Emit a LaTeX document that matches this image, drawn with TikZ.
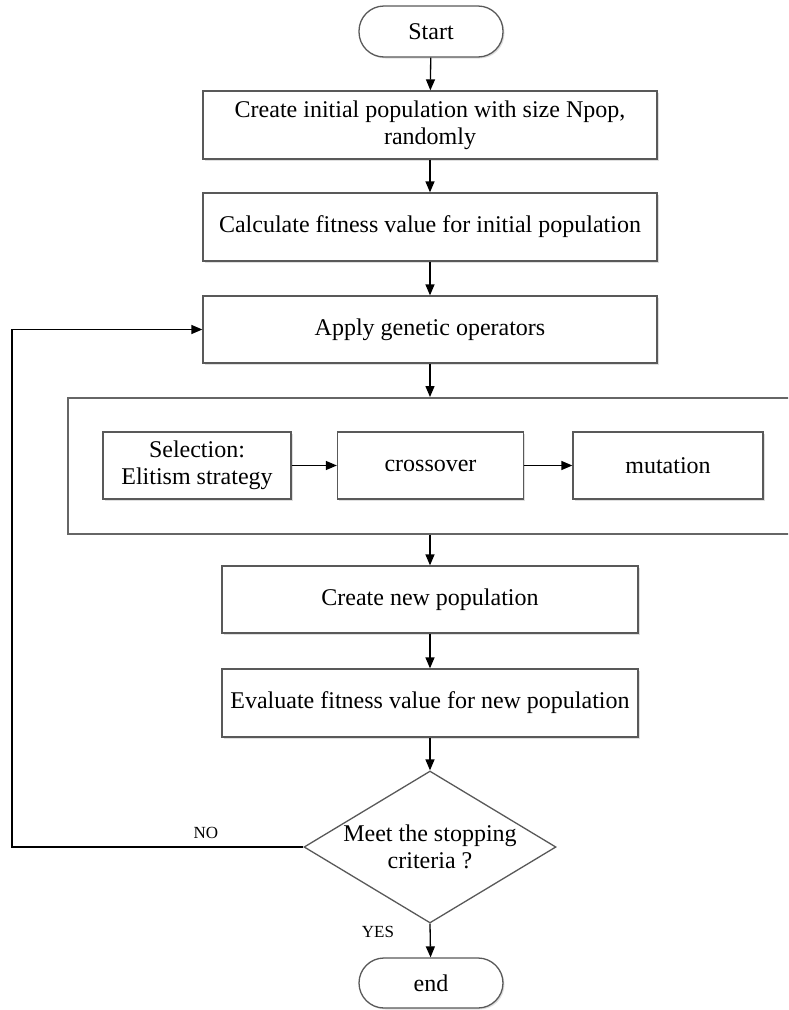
\documentclass[tikz,border=0pt]{standalone}
\usepackage{fontspec}
\setmainfont{Liberation Serif}
\usetikzlibrary{arrows.meta,shapes.geometric,shadows}
\begin{document}
\begin{tikzpicture}[x=1pt,y=-1pt,
  box/.style={draw=black!65, line width=1.3pt, fill=white, align=center, inner sep=0pt,
    font=\fontsize{24}{27}\selectfont,
    drop shadow={opacity=0.25, shadow xshift=1.5pt, shadow yshift=-1.5pt}},
  term/.style={box, rounded corners=25pt},
  decision/.style={draw=black!65, line width=1.3pt, fill=white, diamond, align=center, inner sep=0pt,
    shape aspect=1.66, font=\fontsize{24}{27}\selectfont},
  flow/.style={-{Triangle[length=11pt,width=9pt]}, line width=1.3pt, black},
  lab/.style={font=\fontsize{17}{20}\selectfont, inner sep=0pt}]
\useasboundingbox (0,0) rectangle (788,1010);
\begin{scope}
\clip (0,0) rectangle (788,1010);
% outer grouping box (right edge beyond the picture)
\node[draw=black!60, line width=1.6pt, minimum width=740pt, minimum height=136pt, anchor=north west, inner sep=0pt] (grp) at (67,397) {};
\end{scope}
\node[term, minimum width=144pt, minimum height=51pt] (start) at (431,31.5) {Start};
\node[box, minimum width=454pt, minimum height=68pt] (b1) at (430,125) {Create initial population with size Npop,\\ randomly};
\node[box, minimum width=454pt, minimum height=68pt] (b2) at (430,227) {Calculate fitness value for initial population};
\node[box, minimum width=454pt, minimum height=67pt] (b3) at (430,329.5) {Apply genetic operators};
\node[box, minimum width=188pt, minimum height=67pt] (sel) at (197,465.5) {Selection:\\ Elitism strategy};
\node[box, minimum width=186pt, minimum height=67pt] (cro) at (430.5,465.5) {crossover};
\node[box, minimum width=190pt, minimum height=67pt] (mut) at (668,465.5) {mutation};
\node[box, minimum width=416pt, minimum height=67pt] (newp) at (430,599.5) {Create new population};
\node[box, minimum width=416pt, minimum height=68pt] (eval) at (430,703) {Evaluate fitness value for new population};
\node[decision, minimum width=252pt, minimum height=152pt] (dec) at (430,847) {Meet the stopping\\ criteria ?};
\node[term, minimum width=144pt, minimum height=50pt] (endn) at (431,983) {end};
\coordinate (loop) at (12,847);
\draw[flow] (start) -- (b1);
\draw[flow] (b1) -- (b2);
\draw[flow] (b2) -- (b3);
\draw[flow] (b3.south) -- (b3.south |- grp.north);
\draw[flow] (b3.south |- grp.south) -- (newp.north);
\draw[flow] (sel) -- (cro);
\draw[flow] (cro) -- (mut);
\draw[flow] (newp) -- (eval);
\draw[flow] (eval) -- (dec.north);
\draw[flow] (dec.south) -- (endn);
\draw[flow] (dec.west) -- (loop) |- (b3.west);
\node[lab] (no) at (206,833) {NO};
\node[lab] (yes) at (378,932) {YES};
\end{tikzpicture}
\end{document}
